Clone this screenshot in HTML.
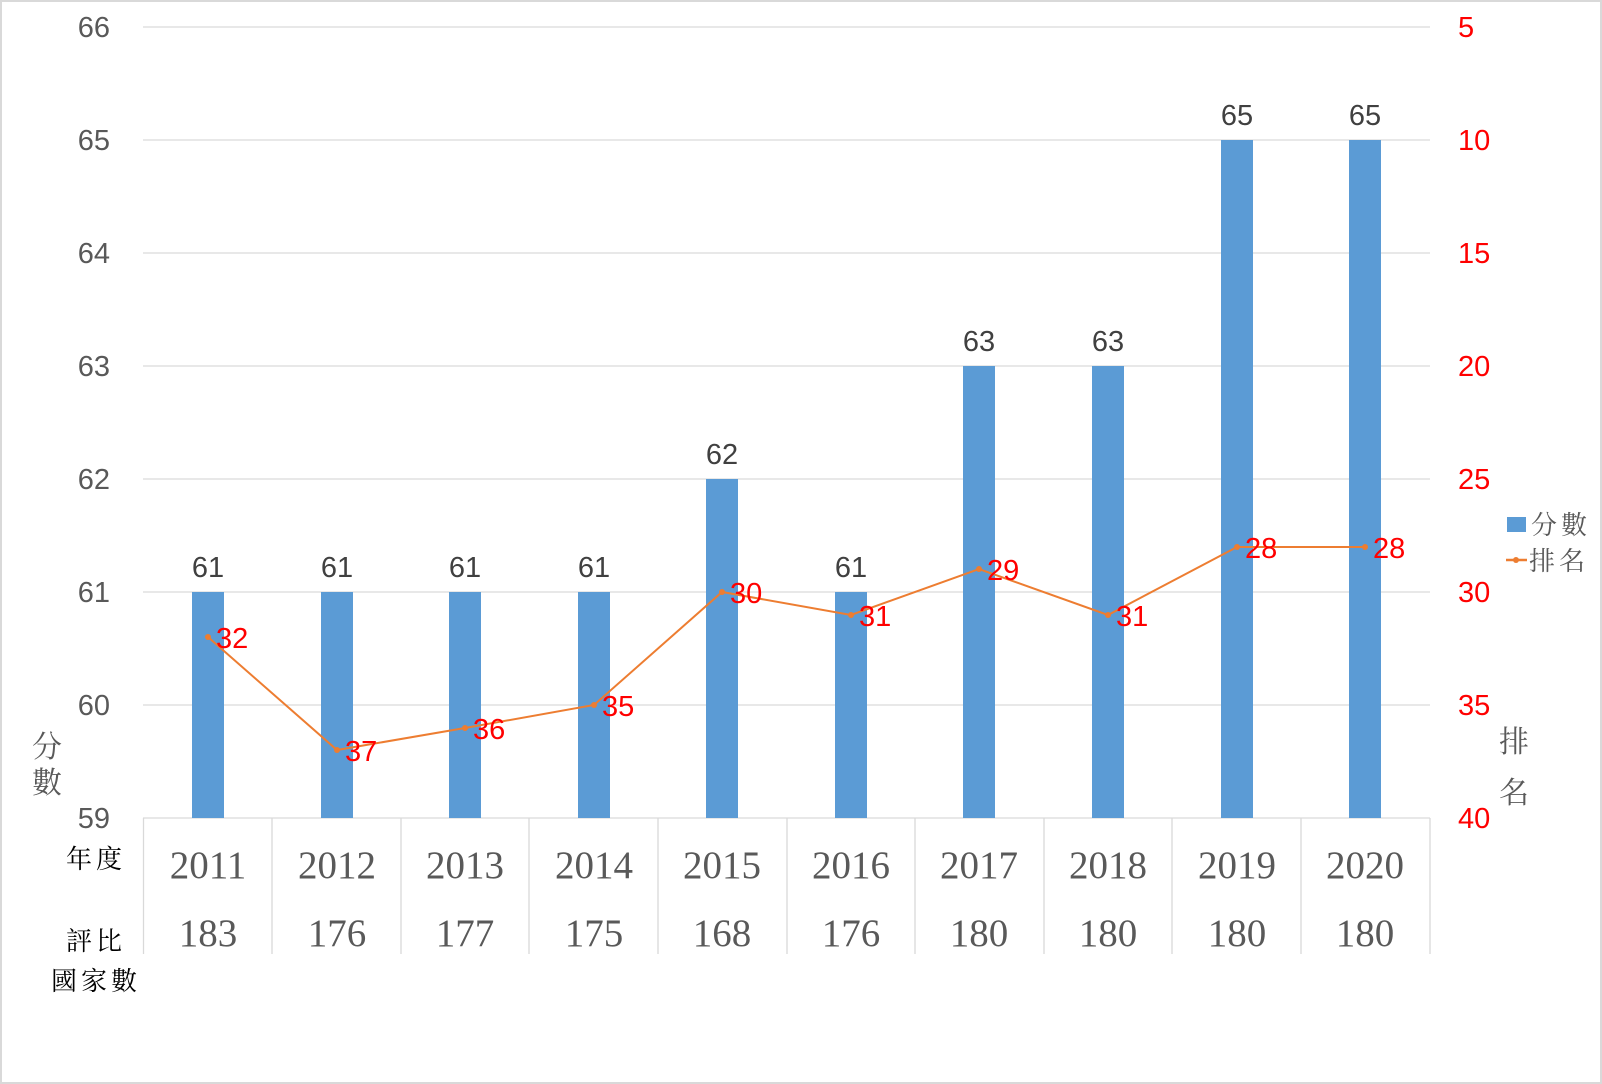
<!DOCTYPE html>
<html><head><meta charset="utf-8"><style>
html,body{margin:0;padding:0;background:#fff}
svg{display:block}
.ax{font-family:"Liberation Sans","Noto Sans CJK TC",sans-serif;font-size:29px;fill:#595959}
.r{fill:#ff0000}
.yr{font-family:"Liberation Serif","Noto Serif CJK SC",serif;font-size:39px;fill:#595959;text-anchor:middle}
.cj{font-family:"Noto Serif CJK SC","WenQuanYi Zen Hei",serif;font-size:26px;letter-spacing:4px}
</style></head><body>
<svg width="1602" height="1084" xmlns="http://www.w3.org/2000/svg">
<rect x="1" y="1" width="1600" height="1082" fill="#fff" stroke="#d9d9d9" stroke-width="2"/>
<g stroke="#d9d9d9" stroke-width="1.3">
<line x1="143" y1="27" x2="1430" y2="27"/><line x1="143" y1="140" x2="1430" y2="140"/>
<line x1="143" y1="253" x2="1430" y2="253"/><line x1="143" y1="366" x2="1430" y2="366"/>
<line x1="143" y1="479" x2="1430" y2="479"/><line x1="143" y1="592" x2="1430" y2="592"/>
<line x1="143" y1="705" x2="1430" y2="705"/><line x1="143" y1="818" x2="1430" y2="818"/>
<line x1="143.5" y1="818" x2="143.5" y2="954"/><line x1="272" y1="818" x2="272" y2="954"/>
<line x1="401" y1="818" x2="401" y2="954"/><line x1="529" y1="818" x2="529" y2="954"/>
<line x1="658" y1="818" x2="658" y2="954"/><line x1="787" y1="818" x2="787" y2="954"/>
<line x1="915" y1="818" x2="915" y2="954"/><line x1="1044" y1="818" x2="1044" y2="954"/>
<line x1="1172" y1="818" x2="1172" y2="954"/><line x1="1301" y1="818" x2="1301" y2="954"/>
<line x1="1430" y1="818" x2="1430" y2="954"/>
</g>
<g class="ax" text-anchor="end">
<text x="110" y="37">66</text><text x="110" y="150">65</text><text x="110" y="263">64</text>
<text x="110" y="376">63</text><text x="110" y="489">62</text><text x="110" y="602">61</text>
<text x="110" y="715">60</text><text x="110" y="828">59</text>
</g>
<g class="ax r">
<text x="1458" y="37">5</text><text x="1458" y="150">10</text><text x="1458" y="263">15</text>
<text x="1458" y="376">20</text><text x="1458" y="489">25</text><text x="1458" y="602">30</text>
<text x="1458" y="715">35</text><text x="1458" y="828">40</text>
</g>
<g fill="#5b9bd5">
<rect x="192" y="592" width="32" height="226"/><rect x="321" y="592" width="32" height="226"/>
<rect x="449" y="592" width="32" height="226"/><rect x="578" y="592" width="32" height="226"/>
<rect x="706" y="479" width="32" height="339"/><rect x="835" y="592" width="32" height="226"/>
<rect x="963" y="366" width="32" height="452"/><rect x="1092" y="366" width="32" height="452"/>
<rect x="1221" y="140" width="32" height="678"/><rect x="1349" y="140" width="32" height="678"/>
</g>
<g class="ax" text-anchor="middle" style="fill:#404040">
<text x="208" y="577">61</text><text x="337" y="577">61</text><text x="465" y="577">61</text>
<text x="594" y="577">61</text><text x="722" y="464">62</text><text x="851" y="577">61</text>
<text x="979" y="351">63</text><text x="1108" y="351">63</text><text x="1237" y="125">65</text>
<text x="1365" y="125">65</text>
</g>
<polyline fill="none" stroke="#ed7d31" stroke-width="2" points="208,637 337,750 465,728 594,705 722,592 851,615 979,569 1108,615 1237,547 1365,547"/>
<g fill="#ed7d31">
<circle cx="208" cy="637" r="3"/><circle cx="337" cy="750" r="3"/><circle cx="465" cy="728" r="3"/>
<circle cx="594" cy="705" r="3"/><circle cx="722" cy="592" r="3"/><circle cx="851" cy="615" r="3"/>
<circle cx="979" cy="569" r="3"/><circle cx="1108" cy="615" r="3"/><circle cx="1237" cy="547" r="3"/>
<circle cx="1365" cy="547" r="3"/>
</g>
<g class="ax r">
<text x="216" y="648">32</text><text x="345" y="761">37</text><text x="473" y="739">36</text>
<text x="602" y="716">35</text><text x="730" y="603">30</text><text x="859" y="626">31</text>
<text x="987" y="580">29</text><text x="1116" y="626">31</text><text x="1245" y="558">28</text>
<text x="1373" y="558">28</text>
</g>
<g class="yr">
<text x="208" y="878">2011</text><text x="337" y="878">2012</text><text x="465" y="878">2013</text>
<text x="594" y="878">2014</text><text x="722" y="878">2015</text><text x="851" y="878">2016</text>
<text x="979" y="878">2017</text><text x="1108" y="878">2018</text><text x="1237" y="878">2019</text>
<text x="1365" y="878">2020</text>
<text x="208" y="946">183</text><text x="337" y="946">176</text><text x="465" y="946">177</text>
<text x="594" y="946">175</text><text x="722" y="946">168</text><text x="851" y="946">176</text>
<text x="979" y="946">180</text><text x="1108" y="946">180</text><text x="1237" y="946">180</text>
<text x="1365" y="946">180</text>
</g>
<g class="cj" fill="#000">
<text x="66" y="868">年度</text>
<text x="66" y="950">評比</text>
<text x="51" y="990">國家數</text>
</g>
<g class="cj" fill="#595959" style="font-size:30px">
<text x="32" y="757">分</text><text x="32" y="793">數</text>
<text x="1499" y="752">排</text><text x="1499" y="803">名</text>
</g>
<rect x="1507" y="517" width="19" height="15" fill="#5b9bd5"/>
<line x1="1506" y1="560" x2="1527" y2="560" stroke="#ed7d31" stroke-width="2.5"/>
<circle cx="1516" cy="560" r="3" fill="#ed7d31"/>
<g class="cj" fill="#595959">
<text x="1531" y="534">分數</text><text x="1529" y="570">排名</text>
</g>
</svg>
</body></html>
